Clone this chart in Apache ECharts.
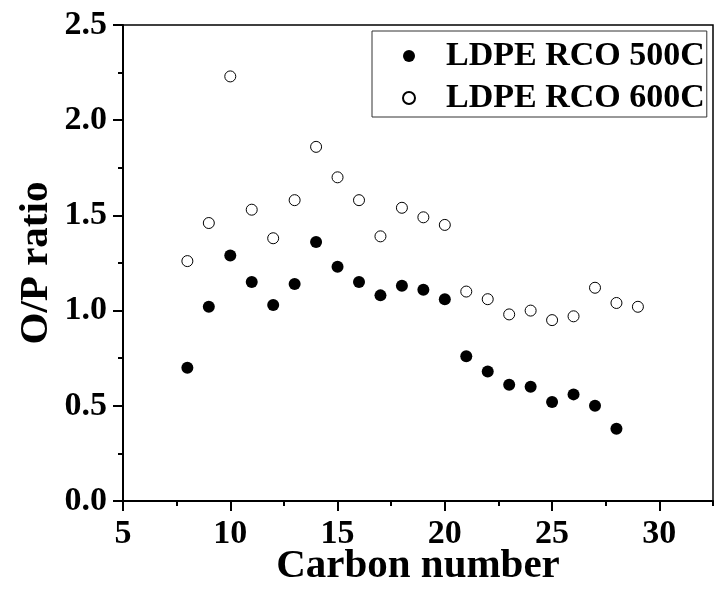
<!DOCTYPE html>
<html>
<head>
<meta charset="utf-8">
<script src="https://cdn.jsdelivr.net/npm/echarts@6/dist/echarts.min.js"></script>
<style>html,body{margin:0;padding:0;background:#fff}#c{width:718px;height:598px}</style>
</head>
<body>
<div id="c"></div>
<script>
const carbon500 = [8,9,10,11,12,13,14,15,16,17,18,19,20,21,22,23,24,25,26,27,28];
const ratio500 = [0.70,1.02,1.29,1.15,1.03,1.14,1.36,1.23,1.15,1.08,1.13,1.11,1.06,0.76,0.68,0.61,0.60,0.52,0.56,0.50,0.38];
const carbon600 = [8,9,10,11,12,13,14,15,16,17,18,19,20,21,22,23,24,25,26,27,28,29];
const ratio600 = [1.26,1.46,2.23,1.53,1.38,1.58,1.86,1.70,1.58,1.39,1.54,1.49,1.45,1.10,1.06,0.98,1.00,0.95,0.97,1.12,1.04,1.02];
const xTicks = [5,10,15,20,25,30];
const xMinorTicks = [7.5,12.5,17.5,22.5,27.5,32.5];
const seriesNames = ['LDPE RCO 500C','LDPE RCO 600C'];
const xTitle = 'Carbon number';
const yTitle = 'O/P ratio';

const FONT = '"Liberation Serif","Times New Roman",serif';
const chart = echarts.init(document.getElementById('c'), null, {renderer:'canvas'});
const lineStyle = {color:'#000', width:2};
chart.setOption({
  animation:false,
  backgroundColor:'#fff',
  grid:{left:123, right:5, top:25, bottom:97, show:true, borderColor:'#000', borderWidth:1.5, backgroundColor:'transparent'},
  legend:{
    orient:'vertical', left:372, top:31,
    padding:[8,2,2,30], itemGap:8,
    itemWidth:64, itemHeight:12,
    borderColor:'#333', borderWidth:1,
    textStyle:{fontFamily:FONT, fontWeight:'bold', fontSize:34, color:'#000', lineHeight:34},
    data:seriesNames
  },
  xAxis:[{
    type:'value', min:5, max:32.5, interval:5,
    axisLine:{show:true, lineStyle:lineStyle},
    axisTick:{show:true, inside:false, length:10, lineStyle:lineStyle, customValues:xTicks},
    axisLabel:{customValues:xTicks, fontFamily:FONT, fontWeight:'bold', fontSize:34, color:'#000', margin:16},
    splitLine:{show:false},
    name:xTitle, nameLocation:'middle', nameGap:45, nameMoveOverlap:false,
    nameTextStyle:{fontFamily:FONT, fontWeight:'bold', fontSize:41, color:'#000'}
  },{
    type:'value', min:5, max:32.5, position:'bottom',
    axisLine:{show:false},
    axisTick:{show:true, length:5, lineStyle:lineStyle, customValues:xMinorTicks},
    axisLabel:{show:false},
    splitLine:{show:false}
  }],
  yAxis:{
    type:'value', min:0, max:2.5, interval:0.5,
    axisLine:{show:true, lineStyle:lineStyle},
    axisTick:{show:true, length:10, lineStyle:lineStyle},
    minorTick:{show:true, splitNumber:2, length:5, lineStyle:lineStyle},
    axisLabel:{fontFamily:FONT, fontWeight:'bold', fontSize:34, color:'#000', margin:16, formatter:v=>v.toFixed(1)},
    splitLine:{show:false},
    name:yTitle, nameLocation:'middle', nameGap:66, nameMoveOverlap:false,
    nameTextStyle:{fontFamily:FONT, fontWeight:'bold', fontSize:41, color:'#000'}
  },
  series:[{
    name:seriesNames[0], type:'scatter', symbol:'circle', symbolSize:12,
    itemStyle:{color:'#000', opacity:1},
    data:carbon500.map((c,i)=>[c,ratio500[i]])
  },{
    name:seriesNames[1], type:'scatter', symbol:'circle', symbolSize:11,
    itemStyle:{color:'#fff', borderColor:'#000', borderWidth:1, opacity:1},
    data:carbon600.map((c,i)=>[c,ratio600[i]])
  }]
});
</script>
</body>
</html>
